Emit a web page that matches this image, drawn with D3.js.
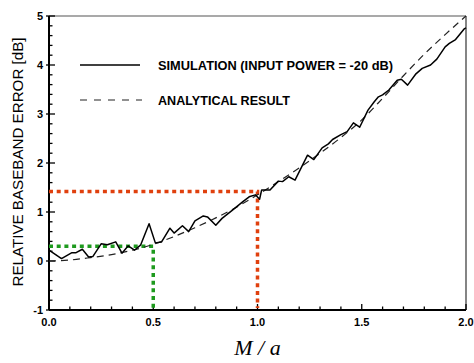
<!DOCTYPE html>
<html>
<head>
<meta charset="utf-8">
<script src="https://cdn.jsdelivr.net/npm/d3@7"></script>
<style>
  body { margin: 0; background: #fff; }
  svg { display: block; }
</style>
</head>
<body>
<svg id="chart" width="474" height="363"></svg>
<script>
// Simulation curve (input power = -20 dB)
const simX = [0.0, 0.06, 0.11, 0.13, 0.16, 0.19, 0.21, 0.25, 0.28, 0.32, 0.35, 0.38, 0.41, 0.44, 0.48, 0.51, 0.54, 0.58, 0.60, 0.64, 0.67, 0.70, 0.74, 0.76, 0.80, 0.83, 0.88, 0.93, 0.96, 0.99, 1.01, 1.02, 1.06, 1.10, 1.12, 1.15, 1.18, 1.24, 1.27, 1.31, 1.34, 1.36, 1.40, 1.43, 1.46, 1.49, 1.53, 1.56, 1.58, 1.60, 1.63, 1.67, 1.69, 1.72, 1.76, 1.79, 1.83, 1.86, 1.90, 1.92, 1.95, 1.99, 2.0];
const simY = [0.22, 0.05, 0.17, 0.17, 0.24, 0.08, 0.09, 0.35, 0.33, 0.39, 0.16, 0.31, 0.22, 0.33, 0.76, 0.37, 0.39, 0.67, 0.57, 0.72, 0.60, 0.82, 0.92, 0.90, 0.73, 0.87, 1.04, 1.21, 1.31, 1.35, 1.26, 1.45, 1.45, 1.63, 1.62, 1.72, 1.65, 2.16, 2.07, 2.31, 2.39, 2.48, 2.58, 2.64, 2.82, 2.73, 3.08, 3.25, 3.35, 3.39, 3.49, 3.69, 3.71, 3.59, 3.82, 3.93, 4.00, 4.12, 4.37, 4.44, 4.52, 4.73, 4.76];

// Analytical result
const anaX = [0.0, 0.1, 0.2, 0.3, 0.4, 0.5, 0.6, 0.7, 0.8, 0.9, 1.0, 1.1, 1.2, 1.3, 1.4, 1.5, 1.6, 1.7, 1.8, 1.9, 2.0];
const anaY = [0.0, 0.02, 0.07, 0.13, 0.22, 0.34, 0.50, 0.68, 0.88, 1.10, 1.35, 1.62, 1.90, 2.20, 2.52, 2.88, 3.32, 3.78, 4.22, 4.62, 5.0];

// Marked operating points
const markX = [0.5, 1.0];
const markY = [0.3, 1.42];
const markColors = ["#1e9a1e", "#e0400e"];

const xTicks = [0.0, 0.5, 1.0, 1.5, 2.0];
const yTicks = [-1, 0, 1, 2, 3, 4, 5];

const svg = d3.select("#chart");
const pLeft = 49, pRight = 466, pTop = 16, pBottom = 310;

const x = d3.scaleLinear().domain([0, 2]).range([pLeft, pRight]);
const y = d3.scaleLinear().domain([-1, 5]).range([pBottom, pTop]);

// frame
svg.append("line").attr("x1", pLeft).attr("x2", pRight).attr("y1", pTop).attr("y2", pTop)
    .attr("stroke", "#555").attr("stroke-width", 1.2);
svg.append("line").attr("x1", pRight).attr("x2", pRight).attr("y1", pTop).attr("y2", pBottom)
    .attr("stroke", "#333").attr("stroke-width", 1.2);

// minor ticks
const xMinor = d3.range(0, 2.001, 0.1);
svg.append("g").selectAll("line").data(xMinor).join("line")
    .attr("x1", d => x(d)).attr("x2", d => x(d))
    .attr("y1", pBottom).attr("y2", d => Math.abs(d * 2 - Math.round(d * 2)) < 1e-6 ? pBottom - 6 : pBottom - 3.5)
    .attr("stroke", "#000").attr("stroke-width", 1.3);

const yMinor = d3.range(-1, 5.001, 0.2);
svg.append("g").selectAll("line").data(yMinor).join("line")
    .attr("x1", d => Math.abs(d - Math.round(d)) < 1e-6 ? pLeft - 3 : pLeft)
    .attr("x2", d => Math.abs(d - Math.round(d)) < 1e-6 ? pLeft + 6 : pLeft + 3.5)
    .attr("y1", d => y(d)).attr("y2", d => y(d))
    .attr("stroke", "#000").attr("stroke-width", 1.3);

// axes lines
svg.append("line").attr("x1", pLeft).attr("x2", pRight).attr("y1", pBottom).attr("y2", pBottom)
    .attr("stroke", "#000").attr("stroke-width", 2);
svg.append("line").attr("x1", pLeft).attr("x2", pLeft).attr("y1", pTop).attr("y2", pBottom)
    .attr("stroke", "#000").attr("stroke-width", 2);

// tick labels
svg.append("g").selectAll("text").data(xTicks).join("text")
    .attr("x", d => x(d)).attr("y", pBottom + 16)
    .attr("text-anchor", "middle")
    .attr("font-family", "Liberation Sans, Arial, sans-serif")
    .attr("font-weight", "bold").attr("font-size", 11)
    .text(d => d.toFixed(1));

svg.append("g").selectAll("text").data(yTicks).join("text")
    .attr("x", pLeft - 6).attr("y", d => y(d) + 4)
    .attr("text-anchor", "end")
    .attr("font-family", "Liberation Sans, Arial, sans-serif")
    .attr("font-weight", "bold").attr("font-size", 11)
    .text(d => d);

// axis titles
svg.append("text")
    .attr("transform", `translate(23, 162) rotate(-90)`)
    .attr("text-anchor", "middle")
    .attr("font-family", "Liberation Sans, Arial, sans-serif")
    .attr("font-size", 14)
    .attr("textLength", 249).attr("lengthAdjust", "spacingAndGlyphs")
    .text("RELATIVE BASEBAND ERROR [dB]");

svg.append("text")
    .attr("x", x(1)).attr("y", 355)
    .attr("text-anchor", "middle")
    .attr("font-family", "Liberation Serif, Times New Roman, serif")
    .attr("font-style", "italic").attr("font-size", 22)
    .text("M / a");

// dotted guide lines
markX.forEach((mx, i) => {
    svg.append("path")
        .attr("d", `M${x(0)},${y(markY[i])}H${x(mx)}V${pBottom - 2}`)
        .attr("fill", "none")
        .attr("stroke", markColors[i])
        .attr("stroke-width", 3.5)
        .attr("stroke-dasharray", "4,3.7");
});

// curves
svg.append("path")
    .datum(d3.zip(anaX, anaY))
    .attr("d", d3.line().x(d => x(d[0])).y(d => y(d[1])).curve(d3.curveMonotoneX))
    .attr("fill", "none").attr("stroke", "#222")
    .attr("stroke-width", 1.2).attr("stroke-dasharray", "7,5");

svg.append("path")
    .datum(d3.zip(simX, simY))
    .attr("d", d3.line().x(d => x(d[0])).y(d => y(d[1])))
    .attr("fill", "none").attr("stroke", "#000")
    .attr("stroke-width", 1.5).attr("stroke-linejoin", "round");

// legend
const legend = svg.append("g");
legend.append("line").attr("x1", 80).attr("x2", 140).attr("y1", 65).attr("y2", 65)
    .attr("stroke", "#000").attr("stroke-width", 1.5);
legend.append("line").attr("x1", 80).attr("x2", 142).attr("y1", 100).attr("y2", 100)
    .attr("stroke", "#222").attr("stroke-width", 1.2).attr("stroke-dasharray", "7,7");
legend.append("text").attr("x", 158).attr("y", 69.5)
    .attr("font-family", "Liberation Sans, Arial, sans-serif")
    .attr("font-weight", "bold").attr("font-size", 12)
    .attr("textLength", 235).attr("lengthAdjust", "spacingAndGlyphs")
    .text("SIMULATION (INPUT POWER = -20 dB)");
legend.append("text").attr("x", 158).attr("y", 104.5)
    .attr("font-family", "Liberation Sans, Arial, sans-serif")
    .attr("font-weight", "bold").attr("font-size", 12)
    .attr("textLength", 132).attr("lengthAdjust", "spacingAndGlyphs")
    .text("ANALYTICAL RESULT");
</script>
</body>
</html>
